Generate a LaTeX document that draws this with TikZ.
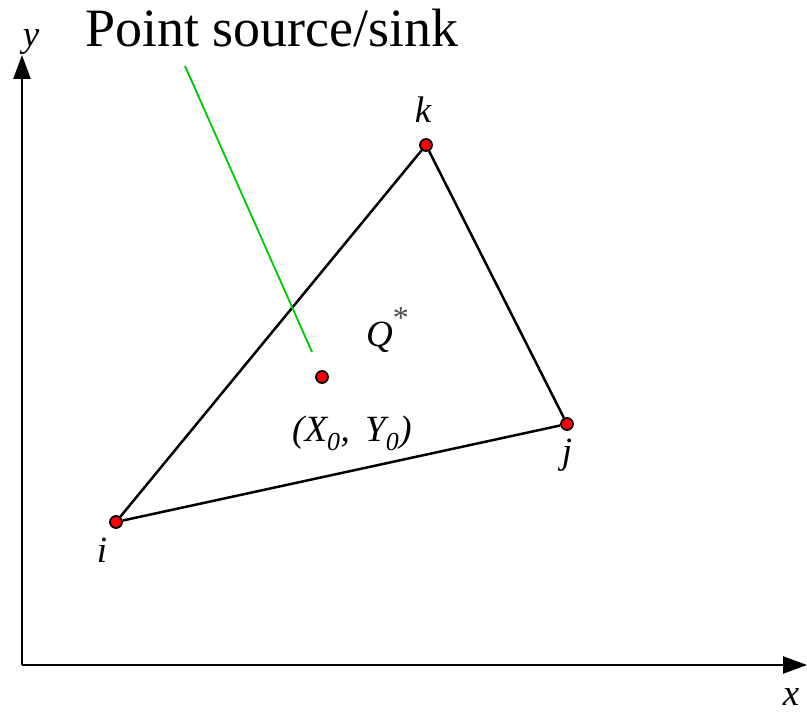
\documentclass[tikz,border=0pt]{standalone}
\usepackage{fontspec}
\setmainfont{Liberation Serif}
\usetikzlibrary{arrows.meta}
\definecolor{leadgreen}{RGB}{0,200,0}

\begin{document}
\begin{tikzpicture}[x=1pt,y=-1pt,
    axis/.style={line width=2.5pt, -{Triangle[length=24pt,width=17pt]}},
    side/.style={line width=2.5pt},
    vertex/.style={circle, draw=black, fill=red, line width=1.8pt, inner sep=0pt, minimum size=12pt},
    lbl/.style={font=\fontsize{37}{42}\selectfont\itshape, inner sep=0pt}]
    \useasboundingbox (0,0) rectangle (807,714);

    % Axes
    \coordinate (O) at (22,665);
    \coordinate (X) at (807,665);
    \coordinate (Y) at (22,55);
    \draw[axis] (O) -- (X);
    \draw[axis] (O) -- (Y);
    \node[lbl, anchor=base] (xlab) at (791,705) {x};
    \node[lbl, anchor=base] (ylab) at (31,47) {y};

    % Element nodes
    \node[vertex] (i) at (116,522) {};
    \node[vertex] (j) at (567,424) {};
    \node[vertex] (k) at (426,145) {};
    \node[lbl, anchor=base] (ilab) at (102,562) {i};
    \node[lbl, anchor=base] (jlab) at (567,464) {j};
    \node[lbl, anchor=base] (klab) at (423,123) {k};

    % Draw the triangle
    \draw[side] (i) -- (j) -- (k) -- (i);

    % Point source/sink
    \node[vertex] (src) at (322,377) {};
    \node[lbl, anchor=base west] (qlab) at (366,347) {Q\raisebox{0.5em}{\fontsize{32}{34}\selectfont\upshape\color{black!70} *}};
    \node[lbl, anchor=base west] (xy) at (292,442) {(X\textsubscript{0}, \,Y\textsubscript{0})};
    \node[font=\fontsize{54}{60}\selectfont, inner sep=0pt, anchor=base west] (title) at (85,47) {Point source/sink};
    \coordinate (lead) at (185,66); % below the title
    \coordinate (tip) at (312,352); % near the source
    \draw[leadgreen, line width=1.8pt] (lead) -- (tip);
\end{tikzpicture}
\end{document}
